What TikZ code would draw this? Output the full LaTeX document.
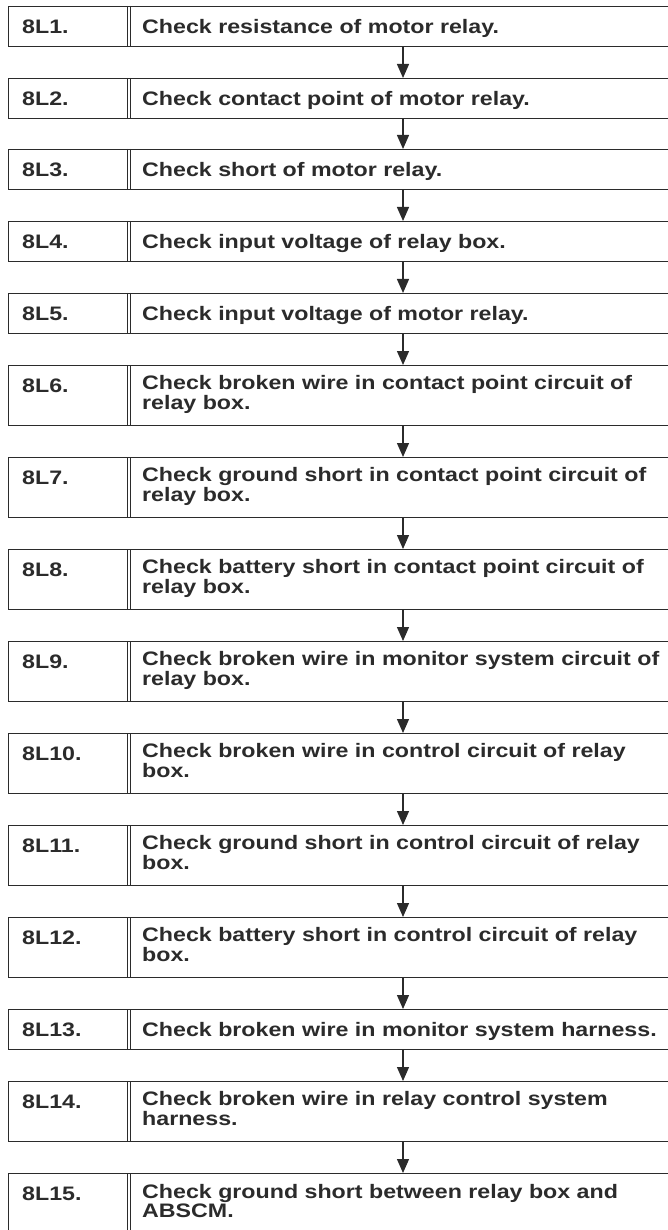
\documentclass[tikz,border=0pt]{standalone}
\usepackage{fontspec}
\setmainfont[FakeStretch=1.19]{Liberation Sans}
\usetikzlibrary{arrows.meta}
\definecolor{ink}{HTML}{2B2B2B}
\begin{document}
\begin{tikzpicture}[x=1pt,y=-1pt,
  stepbox/.style={draw=ink, line width=1.4pt, rectangle, anchor=north west, minimum width=680pt, inner sep=0pt},
  divline/.style={draw=ink, line width=1.2pt},
  lbl/.style={anchor=base west, inner sep=0pt, font=\fontsize{19.5}{17}\selectfont\bfseries, text=ink},
  txt/.style={lbl, align=left},
  flow/.style={draw=ink, line width=1.3pt, -{Triangle[width=12pt,length=14pt]}},
]
\useasboundingbox (0,0) rectangle (668,1230);
\clip (0,0) rectangle (668,1230);
\coordinate (ax) at (403,0);
\foreach \i/\t/\h in {1/6/40,2/78/40,3/149/40,4/221/40,5/293/40,6/365/60,7/457/60,8/549/60,9/641/60,10/733/60,11/825/60,12/917/60,13/1009/40,14/1081/60,15/1173/60}{
  \node[stepbox, minimum height=\h pt] (b\i) at (8,\t) {};
  \draw[divline] ([xshift=119.6pt]b\i.north west) -- ([xshift=119.6pt]b\i.south west);
  \draw[divline] ([xshift=122.2pt]b\i.north west) -- ([xshift=122.2pt]b\i.south west);
  \node[lbl] (l\i) at (22,{\t+27.3}) {8L\i.};
}
\foreach \i/\j in {1/2,2/3,3/4,4/5,5/6,6/7,7/8,8/9,9/10,10/11,11/12,12/13,13/14,14/15}{
  \draw[flow] (b\i.south -| ax) -- (b\j.north -| ax);
}
\node[txt] (t1) at (142,33.3) {Check resistance of motor relay.};
\node[txt] (t2) at (142,105.3) {Check contact point of motor relay.};
\node[txt] (t3) at (142,176.3) {Check short of motor relay.};
\node[txt] (t4) at (142,248.3) {Check input voltage of relay box.};
\node[txt] (t5) at (142,320.3) {Check input voltage of motor relay.};
\node[txt] (t6) at (142,409) {Check broken wire in contact point circuit of\\relay box.};
\node[txt] (t7) at (142,501) {Check ground short in contact point circuit of\\relay box.};
\node[txt] (t8) at (142,593) {Check battery short in contact point circuit of\\relay box.};
\node[txt] (t9) at (142,685) {Check broken wire in monitor system circuit of\\relay box.};
\node[txt] (t10) at (142,777) {Check broken wire in control circuit of relay\\box.};
\node[txt] (t11) at (142,869) {Check ground short in control circuit of relay\\box.};
\node[txt] (t12) at (142,961) {Check battery short in control circuit of relay\\box.};
\node[txt] (t13) at (142,1036.3) {Check broken wire in monitor system harness.};
\node[txt] (t14) at (142,1125) {Check broken wire in relay control system\\harness.};
\node[txt] (t15) at (142,1217) {Check ground short between relay box and\\ABSCM.};
\end{tikzpicture}
\end{document}
